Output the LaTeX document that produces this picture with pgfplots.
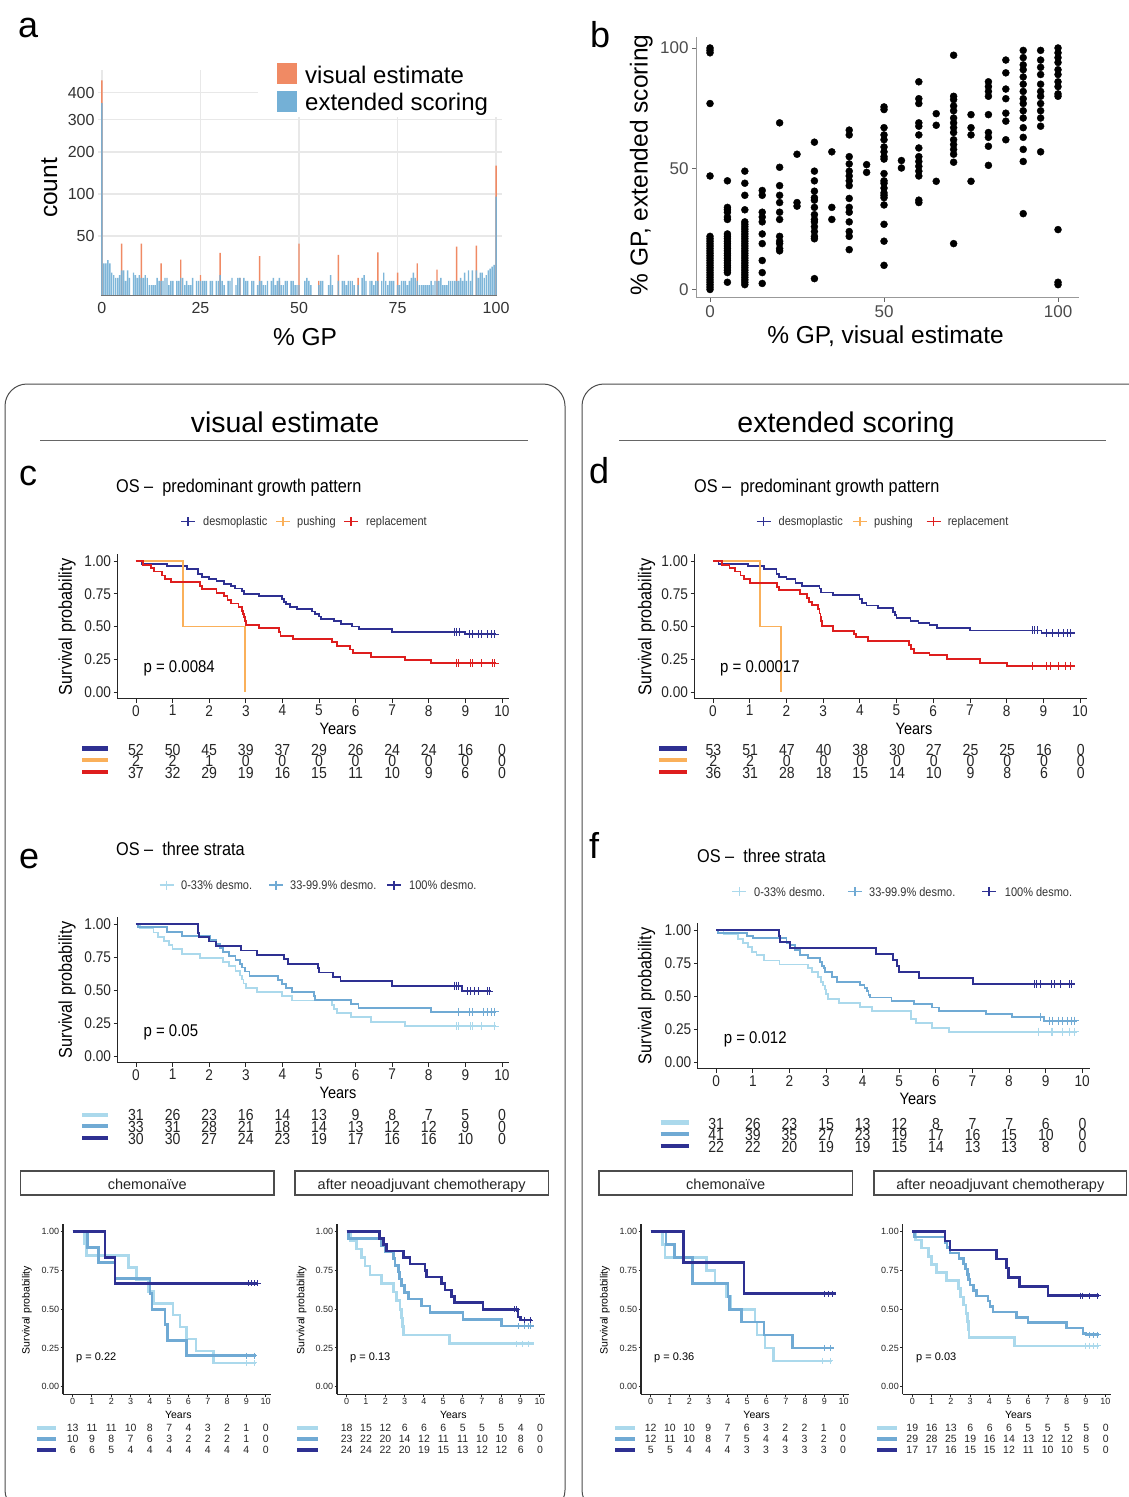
\documentclass[border=0pt]{standalone}
\usepackage{fontspec}
\setmainfont{Liberation Sans}
\newfontfamily\nf[FakeStretch=0.88,Ligatures=TeX]{Liberation Sans}
\usepackage{pgfplots}
\pgfplotsset{compat=1.18}
\definecolor{navy}{RGB}{46,48,146}
\definecolor{orangeKM}{RGB}{250,176,90}
\definecolor{redKM}{RGB}{222,30,30}
\definecolor{lightb}{RGB}{171,217,236}
\definecolor{medb}{RGB}{112,170,212}
\definecolor{historange}{RGB}{240,138,100}
\definecolor{histblue}{RGB}{116,176,214}
\definecolor{gridc}{RGB}{232,232,232}
\newcommand{\fs}[1]{\fontsize{#1}{#1}\selectfont}

\pgfplotsset{
 kmbase/.style={scale only axis, clip=false, axis lines=left, axis line style={-,line width=1.1pt,black!85},
   xmin=-0.5, ymin=-0.05, ymax=1.05, xtick={0,1,...,10}, ytick={0,0.25,0.5,0.75,1},
   yticklabels={0.00,0.25,0.50,0.75,1.00}, tick align=outside, tick style={black!85,line width=0.8pt},
   /pgf/number format/assume math mode=true, anchor=south west},
 kmbig/.style={kmbase, xmax=10.2, width=391.6pt, major tick length=4pt,
   ticklabel style={font=\nf\fs{15.5}, text=black!85, inner sep=2.5pt}},
 kmsmall/.style={kmbase, xmax=10.3, width=208.4pt, height=170.5pt, major tick length=2.5pt,
   axis line style={-,line width=1.5pt,black!85}, tick style={line width=1pt},
   ticklabel style={font=\fs{9}, text=black!85, inner sep=1.2pt}},
 kmline/.style={const plot, line width=1.8pt, #1},
 kmcens/.style={only marks, mark=+, mark size=4pt, #1, mark options={line width=1pt}},
 smline/.style={const plot, line width=2.6pt, #1},
 smcens/.style={only marks, mark=+, mark size=3pt, #1, mark options={line width=1pt}},
}

\newcommand{\riskrow}[6]{%
  \foreach \v [count=\i from 0] in {#6} {\node[font=#5\fs{#4}, anchor=base, inner sep=0pt, text=black!85] at ({#1+\i*#2},#3) {\v};}}
\newcommand{\riskbar}[5]{\draw[#4, line width=#5] (#1,#3) -- (#2,#3);}
\newcommand{\legitem}[6]{%
  \draw[#3, line width=1.3pt] (#1-7,#2) -- (#1+7,#2) (#1,#2-4.5) -- (#1,#2+4.5);
  \node[font=\nf\fs{12.5}, anchor=base west, inner sep=0pt, text=black!80] at (#4,#5) {#6};}

\begin{document}
\begin{tikzpicture}
\useasboundingbox (0,0) rectangle (1129pt,-1497pt);
\fill[white] (0,0) rectangle (1129pt,-1497pt);

% ---------------- panel a ----------------
\begin{axis}[scale only axis, at={(98pt,-295.3pt)}, anchor=south west, width=404pt, height=225.3pt,
  xmin=-1, xmax=101.5, ymin=0, ymax=22.24, axis line style={draw=none}, major tick length=0pt,
  xtick={0,25,50,75,100}, ytick={5.85,10,14.142,17.32,20}, yticklabels={50,100,200,300,400},
  grid=major, major grid style={color=gridc, line width=1.3pt},
  ticklabel style={font=\fs{16}, text=black!80}, xticklabel style={yshift=-3.5pt},
  y filter/.expression={sqrt(y)}, /pgf/number format/assume math mode=true, clip=false]
\addplot[ybar, bar width=1.4pt, bar shift=0pt, fill=historange, draw=none] coordinates {
(0,450)(5,26)(10,26)(15,10)(20,12.4)(25,4)(30,17.5)(35,3)(40,15)(45,2)(50,26)(55,2)(60,16)(65,3)(70,18)(75,5)(80,10)(85,6.4)(90,23)(95,24)(100,164)};
\addplot[ybar, bar width=1.4pt, bar shift=0pt, fill=histblue, draw=none, fill opacity=0.92] coordinates {
(0,360)(0.5,10)(1,10)(1.5,12)(2,10)(2.5,5)(3,4)(3.5,3)(4,3)(4.5,4)(5,6)(5.5,6)(6,2)(6.5,6)(7,3)(7.5,0)(8,5)(8.5,4)(9,3)(9.5,4)(10,3)(10.5,3)(11,4)(11.5,3)(12,1)(12.5,1)(13,1)(13.5,1)(14,3)(14.5,2)(15,2)(15.5,2)(16,3)(16.5,3)(17,1)(17.5,2)(18,2)(18.5,0)(19,2)(19.5,2)(20,3)(20.5,3)(21,1)(21.5,2)(22,1)(22.5,1)(23,3)(23.5,0)(24,2)(24.5,2)(25,2)(25.5,2)(26,2)(26.5,2)(27,0)(27.5,2)(28,2)(28.5,0)(29,2)(29.5,2)(30,4)(30.5,2)(31,1)(31.5,0)(32,2)(32.5,2)(33,3)(33.5,0)(34,1)(34.5,3)(35,3)(35.5,0)(36,3)(36.5,2)(37,2)(37.5,0)(38,2)(38.5,2)(39,0)(39.5,1)(40,2)(40.5,2)(41,1)(41.5,1)(42,2)(42.5,0)(43,2)(43.5,3)(44,1)(44.5,2)(45,3)(45.5,1)(46,1)(46.5,2)(47,2)(47.5,0)(48,2)(48.5,2)(49,1)(49.5,1)(50,1)(50.5,0)(51,0)(51.5,2)(52,3)(52.5,2)(53,1)(53.5,0)(54,0)(54.5,0)(55,1)(55.5,2)(56,2)(56.5,0)(57,0)(57.5,1)(58,4)(58.5,1)(59,0)(59.5,0)(60,2)(60.5,0)(61,2)(61.5,2)(62,1)(62.5,2)(63,2)(63.5,2)(64,1)(64.5,0)(65,1)(65.5,0)(66,3)(66.5,4)(67,2)(67.5,0)(68,2)(68.5,2)(69,1)(69.5,2)(70,2)(70.5,0)(71,2)(71.5,5)(72,2)(72.5,1)(73,2)(73.5,2)(74,2)(74.5,0)(75,1)(75.5,1)(76,2)(76.5,2)(77,2)(77.5,1)(78,2)(78.5,3)(79,5)(79.5,3)(80,2)(80.5,1)(81,1)(81.5,1)(82,1)(82.5,1)(83,1)(83.5,2)(84,1)(84.5,2)(85,2)(85.5,2)(86,3)(86.5,1)(87,1)(87.5,1)(88,2)(88.5,2)(89,2)(89.5,2)(90,2)(90.5,2)(91,3)(91.5,2)(92,5)(92.5,2)(93,6)(93.5,2)(94,6)(94.5,0)(95,6)(95.5,3)(96,5)(96.5,5)(97,3)(97.5,4)(98,6)(98.5,7)(99,8)(99.5,9)(100,95)};
\draw[black!55, line width=0.7pt] (axis cs:-0.3,0) -- (axis cs:100.3,0);
\end{axis}

% ---------------- panel b ----------------
\begin{axis}[scale only axis, at={(696.1pt,-297.95pt)}, anchor=south west, width=382.8pt, height=260.85pt,
  xmin=-4, xmax=106, ymin=-3.5, ymax=104.5, axis lines=left, axis line style={-, line width=1pt, color=black!40},
  xtick={0,50,100}, ytick={0,50,100}, tick align=outside, major tick length=4pt,
  tick style={black!60, line width=0.8pt}, ticklabel style={font=\fs{17}, text=black!70},
  clip=false, /pgf/number format/assume math mode=true]
\addplot[only marks, mark=*, mark size=3.5pt, black] coordinates {
(0,0)(0,1)(0,2)(0,3)(0,4)(0,5)(0,6)(0,7)(0,8)(0,9)(0,10)(0,11)(0,12)(0,13)(0,14)(0,15)(0,16)(0,17)(0,18)(0,19)(0,20)(0,21)(0,22)(0,47)(0,77)(0,98)(0,99)(0,100)
(5,3)(5,7)(5,8)(5,9)(5,10)(5,11)(5,12)(5,13)(5,14)(5,15)(5,16)(5,17)(5,18)(5,19)(5,20)(5,21)(5,22)(5,23)(5,29)(5,30)(5,32)(5,33)(5,34)(5,45)
(10,2)(10,3)(10,4)(10,5)(10,6)(10,7)(10,8)(10,9)(10,10)(10,11)(10,12)(10,13)(10,14)(10,15)(10,16)(10,17)(10,18)(10,19)(10,20)(10,21)(10,22)(10,23)(10,24)(10,25)(10,26)(10,27)(10,28)(10,33)(10,39)(10,44)(10,49)
(15,2.5)(15,7)(15,12)(15,19)(15,23)(15,28)(15,30)(15,32)(15,39)(15,41)
(20,16)(20,17)(20,19)(20,20)(20,22)(20,29)(20,32)(20,36)(20,39)(20,43)(20,50.6)(20,69)
(25,34.5)(25,36)(25,56)
(30,4.5)(30,21)(30,22)(30,24)(30,26)(30,28)(30,29)(30,31)(30,34)(30,37)(30,38)(30,40.7)(30,45)(30,49)(30,61)
(35,29)(35,34)(35,57)
(40,16.5)(40,22)(40,24)(40,28)(40,32)(40,34)(40,37.7)(40,43)(40,45)(40,47)(40,49)(40,52)(40,55)(40,64)(40,66)
(45,48.5)(45,51.7)
(50,10)(50,20)(50,27)(50,35)(50,38)(50,39)(50,40)(50,42)(50,44)(50,45)(50,48)(50,54)(50,55)(50,57)(50,59)(50,62)(50,64)(50,67)(50,74.5)(50,75.6)
(55,50.3)(55,53.4)
(60,36)(60,37)(60,47)(60,49)(60,51)(60,53)(60,55)(60,58.6)(60,64)(60,67.6)(60,69)(60,77)(60,79)(60,86)
(65,44.8)(65,68)(65,72.8)
(70,19)(70,52.7)(70,56)(70,58)(70,60)(70,62)(70,65)(70,67)(70,69)(70,71)(70,74)(70,76)(70,78.6)(70,80)(70,97)
(75,44.8)(75,64)(75,67)(75,72.4)
(80,51.4)(80,59.3)(80,63)(80,65)(80,72.4)(80,80)(80,82)(80,84)(80,86)
(85,62)(85,69.7)(85,73)(85,79)(85,83)(85,89.7)(85,95)
(90,31.4)(90,53)(90,58)(90,63)(90,67)(90,71)(90,74)(90,77)(90,79)(90,82)(90,85)(90,88)(90,91)(90,93)(90,96)(90,99)
(95,57)(95,67.6)(95,71)(95,74)(95,77)(95,80)(95,82)(95,85)(95,89)(95,92)(95,95)(95,99)
(100,2)(100,3)(100,24.8)(100,80)(100,81)(100,84)(100,86)(100,89)(100,91)(100,94)(100,96)(100,98)(100,100)};
\end{axis}

% ---------------- panel c ----------------
\begin{axis}[kmbig, height=144.1pt, at={(117.7pt,-698.55pt)}]
\addplot[kmline=navy] coordinates {(0,1)(0.15,0.98)(0.85,0.96)(1.4,0.94)(1.7,0.90)(1.8,0.88)(2.0,0.865)(2.2,0.846)(2.4,0.827)(2.6,0.808)(2.7,0.79)(2.9,0.77)(2.95,0.75)(3.35,0.735)(4.0,0.71)(4.05,0.69)(4.1,0.67)(4.2,0.65)(4.4,0.635)(4.8,0.615)(4.9,0.596)(5.0,0.577)(5.05,0.558)(5.4,0.54)(5.6,0.52)(5.9,0.50)(6.1,0.48)(7.0,0.46)(9.0,0.44)(9.85,0.44)};
\addplot[kmline=orangeKM] coordinates {(0,1)(1.28,0.5)(2.98,0)};
\addplot[kmline=redKM] coordinates {(0,1)(0.2,0.97)(0.4,0.946)(0.5,0.92)(0.7,0.89)(0.8,0.865)(0.95,0.84)(1.75,0.81)(1.8,0.785)(2.2,0.757)(2.4,0.73)(2.5,0.70)(2.6,0.676)(2.8,0.65)(2.9,0.62)(2.93,0.595)(2.95,0.57)(2.97,0.54)(3.0,0.51)(3.35,0.49)(3.9,0.46)(3.95,0.43)(4.3,0.405)(5.35,0.38)(5.5,0.35)(5.85,0.325)(5.93,0.30)(6.42,0.27)(7.34,0.245)(8.07,0.22)(9.85,0.22)};
\addplot[kmcens=navy] coordinates {(8.7,0.46)(8.75,0.46)(8.85,0.46)(9.1,0.44)(9.2,0.44)(9.35,0.44)(9.45,0.44)(9.6,0.44)(9.7,0.44)(9.8,0.44)};
\addplot[kmcens=redKM] coordinates {(8.75,0.22)(8.8,0.22)(9.15,0.22)(9.2,0.22)(9.45,0.22)(9.75,0.22)(9.8,0.22)};
\end{axis}

% ---------------- panel d ----------------
\begin{axis}[kmbig, width=392.7pt, height=144.1pt, at={(694.65pt,-698.55pt)}]
\addplot[kmline=navy] coordinates {(0,1)(0.15,0.98)(0.95,0.96)(1.4,0.94)(1.73,0.90)(1.8,0.88)(2.0,0.865)(2.25,0.83)(2.42,0.81)(2.9,0.79)(2.95,0.76)(3.28,0.74)(3.99,0.71)(4.05,0.68)(4.18,0.66)(4.5,0.64)(4.9,0.61)(4.95,0.585)(5.0,0.565)(5.38,0.545)(5.6,0.525)(5.9,0.51)(6.1,0.49)(7.0,0.47)(8.95,0.45)(9.85,0.45)};
\addplot[kmline=orangeKM] coordinates {(0,1)(1.28,0.5)(1.85,0)};
\addplot[kmline=redKM] coordinates {(0,1)(0.25,0.97)(0.45,0.945)(0.6,0.92)(0.75,0.89)(0.85,0.86)(1.0,0.83)(1.75,0.80)(1.8,0.78)(2.37,0.75)(2.56,0.72)(2.62,0.69)(2.7,0.665)(2.85,0.635)(2.9,0.60)(2.93,0.57)(2.95,0.54)(2.98,0.506)(3.28,0.468)(3.85,0.44)(3.9,0.418)(4.23,0.39)(5.33,0.36)(5.4,0.33)(5.47,0.30)(5.9,0.28)(6.38,0.25)(7.28,0.22)(8.0,0.20)(9.85,0.20)};
\addplot[kmcens=navy] coordinates {(8.7,0.47)(8.75,0.47)(8.85,0.47)(9.1,0.45)(9.25,0.45)(9.4,0.45)(9.55,0.45)(9.65,0.45)(9.75,0.45)};
\addplot[kmcens=redKM] coordinates {(8.7,0.2)(9.1,0.2)(9.2,0.2)(9.4,0.2)(9.6,0.2)(9.75,0.2)};
\end{axis}

% ---------------- panel e ----------------
\begin{axis}[kmbig, height=145.2pt, at={(117.7pt,-1062.6pt)}]
\addplot[kmline=lightb] coordinates {(0,1)(0.1,0.97)(0.48,0.935)(0.6,0.90)(0.77,0.87)(0.9,0.84)(1.0,0.81)(1.26,0.775)(1.74,0.745)(2.38,0.715)(2.55,0.68)(2.72,0.645)(2.85,0.61)(2.9,0.58)(2.94,0.55)(3.0,0.515)(3.3,0.485)(3.98,0.455)(4.27,0.42)(5.35,0.385)(5.42,0.355)(5.5,0.325)(5.88,0.295)(6.42,0.26)(7.34,0.225)(9.85,0.225)};
\addplot[kmline=medb] coordinates {(0,1)(0.05,0.975)(0.85,0.94)(1.26,0.91)(2.03,0.88)(2.18,0.85)(2.3,0.82)(2.38,0.79)(2.55,0.76)(2.72,0.73)(2.85,0.70)(2.9,0.67)(2.98,0.64)(3.1,0.605)(3.88,0.575)(3.98,0.545)(4.1,0.515)(4.27,0.487)(4.86,0.455)(4.9,0.427)(5.88,0.395)(6.08,0.366)(8.07,0.335)(9.85,0.335)};
\addplot[kmline=navy] coordinates {(0,1)(1.69,0.933)(1.72,0.90)(1.99,0.867)(2.18,0.833)(2.86,0.80)(3.3,0.767)(4.05,0.733)(4.16,0.70)(4.98,0.667)(5.0,0.633)(5.39,0.60)(5.59,0.567)(7.0,0.533)(8.9,0.49)(9.7,0.49)};
\addplot[kmcens=lightb] coordinates {(8.75,0.225)(8.8,0.225)(9.15,0.225)(9.2,0.225)(9.45,0.225)(9.8,0.225)};
\addplot[kmcens=medb] coordinates {(8.8,0.335)(9.1,0.335)(9.2,0.335)(9.5,0.335)(9.6,0.335)(9.7,0.335)(9.8,0.335)};
\addplot[kmcens=navy] coordinates {(8.7,0.533)(8.75,0.533)(8.8,0.533)(9.05,0.49)(9.15,0.49)(9.25,0.49)(9.35,0.49)(9.6,0.49)(9.65,0.49)};
\end{axis}

% ---------------- panel f ----------------
\begin{axis}[kmbig, height=145.5pt, at={(697.9pt,-1068.9pt)}]
\addplot[kmline=lightb] coordinates {(0,1)(0.2,0.97)(0.6,0.935)(0.73,0.90)(0.87,0.87)(0.97,0.836)(1.1,0.81)(1.3,0.77)(1.73,0.74)(2.5,0.71)(2.62,0.68)(2.78,0.645)(2.86,0.61)(2.92,0.58)(2.97,0.55)(3.0,0.515)(3.05,0.476)(3.35,0.45)(3.93,0.42)(4.26,0.388)(5.32,0.325)(5.46,0.295)(5.89,0.262)(6.37,0.232)(9.85,0.232)};
\addplot[kmline=medb] coordinates {(0,1)(0.05,0.976)(0.85,0.955)(1.0,0.937)(1.92,0.90)(2.0,0.887)(2.16,0.85)(2.3,0.81)(2.5,0.786)(2.83,0.76)(2.9,0.73)(2.95,0.71)(2.97,0.68)(3.16,0.647)(3.31,0.61)(3.93,0.585)(4.05,0.56)(4.12,0.54)(4.16,0.51)(4.2,0.49)(4.79,0.464)(5.41,0.44)(5.89,0.415)(6.08,0.388)(7.37,0.365)(8.09,0.34)(8.95,0.315)(9.85,0.315)};
\addplot[kmline=navy] coordinates {(0,1)(1.71,0.955)(1.75,0.91)(2.02,0.864)(4.36,0.818)(4.82,0.773)(4.93,0.727)(5.0,0.68)(5.55,0.636)(7.02,0.59)(9.8,0.59)};
\addplot[kmcens=lightb] coordinates {(8.8,0.232)(9.15,0.232)(9.2,0.232)(9.45,0.232)(9.65,0.232)(9.8,0.232)};
\addplot[kmcens=medb] coordinates {(8.85,0.34)(9.1,0.315)(9.2,0.315)(9.35,0.315)(9.45,0.315)(9.6,0.315)(9.7,0.315)(9.8,0.315)};
\addplot[kmcens=navy] coordinates {(8.7,0.59)(8.75,0.59)(8.85,0.59)(9.15,0.59)(9.25,0.59)(9.4,0.59)(9.65,0.59)(9.7,0.59)};
\end{axis}

% ---------------- small KM 1 ----------------
\begin{axis}[kmsmall, at={(63.05pt,-1394.45pt)}]
\addplot[smline=lightb] coordinates {(0,1)(0.6,0.923)(0.72,0.846)(2.88,0.769)(3.3,0.692)(3.9,0.615)(4.18,0.538)(5.2,0.462)(5.56,0.385)(5.9,0.308)(6.4,0.231)(7.29,0.154)(9.5,0.154)};
\addplot[smline=medb] coordinates {(0,1)(0.78,0.9)(1.33,0.8)(2.19,0.7)(4.0,0.6)(4.1,0.5)(4.78,0.4)(4.9,0.3)(5.9,0.2)(9.5,0.2)};
\addplot[smline=navy] coordinates {(0,1)(1.68,0.833)(2.19,0.667)(9.6,0.667)};
\addplot[smcens=lightb] coordinates {(9.0,0.154)(9.4,0.154)};
\addplot[smcens=medb] coordinates {(9.0,0.2)(9.4,0.2)};
\addplot[smcens=navy] coordinates {(9.1,0.667)(9.25,0.667)(9.4,0.667)(9.6,0.667)};
\end{axis}

% ---------------- small KM 2 ----------------
\begin{axis}[kmsmall, at={(337.05pt,-1394.45pt)}]
\addplot[smline=lightb] coordinates {(0,1)(0.2,0.944)(0.52,0.889)(0.78,0.833)(0.95,0.778)(1.2,0.722)(1.81,0.667)(2.41,0.611)(2.59,0.556)(2.76,0.5)(2.84,0.444)(2.9,0.389)(2.93,0.333)(5.34,0.278)(9.7,0.278)};
\addplot[smline=medb] coordinates {(0,1)(0.1,0.957)(1.81,0.913)(1.98,0.87)(2.41,0.826)(2.5,0.783)(2.67,0.739)(2.75,0.696)(2.84,0.652)(2.98,0.609)(3.19,0.565)(3.88,0.522)(4.31,0.478)(6.03,0.435)(8.02,0.391)(9.7,0.391)};
\addplot[smline=navy] coordinates {(0,1)(1.69,0.958)(1.9,0.917)(2.07,0.875)(2.93,0.833)(3.28,0.792)(4.05,0.75)(4.14,0.708)(4.91,0.667)(5.09,0.625)(5.43,0.583)(5.6,0.542)(7.07,0.5)(8.88,0.45)(9.0,0.43)(9.6,0.43)};
\addplot[smcens=lightb] coordinates {(8.8,0.278)(9.1,0.278)(9.4,0.278)};
\addplot[smcens=medb] coordinates {(8.9,0.391)(9.2,0.391)(9.4,0.391)(9.5,0.391)};
\addplot[smcens=navy] coordinates {(8.7,0.5)(8.8,0.5)(9.2,0.43)(9.5,0.43)};
\end{axis}

% ---------------- small KM 3 ----------------
\begin{axis}[kmsmall, at={(641.05pt,-1394.45pt)}]
\addplot[smline=lightb] coordinates {(0,1)(0.6,0.917)(0.74,0.833)(2.9,0.75)(3.34,0.667)(3.94,0.583)(4.12,0.5)(5.41,0.417)(5.5,0.333)(5.93,0.25)(6.37,0.167)(9.4,0.167)};
\addplot[smline=medb] coordinates {(0,1)(0.8,0.917)(1.23,0.833)(2.18,0.667)(4.0,0.583)(4.07,0.5)(4.72,0.417)(5.88,0.333)(7.35,0.25)(9.5,0.25)};
\addplot[smline=navy] coordinates {(0,1)(1.71,0.8)(4.84,0.6)(9.6,0.6)};
\addplot[smcens=lightb] coordinates {(8.9,0.167)(9.3,0.167)};
\addplot[smcens=medb] coordinates {(9.0,0.25)(9.3,0.25)};
\addplot[smcens=navy] coordinates {(9.0,0.6)(9.2,0.6)(9.4,0.6)};
\end{axis}

% ---------------- small KM 4 ----------------
\begin{axis}[kmsmall, at={(902.65pt,-1394.45pt)}]
\addplot[smline=lightb] coordinates {(0,1)(0.15,0.947)(0.48,0.895)(0.83,0.842)(1.0,0.789)(1.26,0.737)(1.78,0.684)(2.38,0.632)(2.5,0.579)(2.64,0.526)(2.78,0.474)(2.85,0.421)(2.9,0.368)(2.93,0.316)(5.31,0.263)(9.7,0.263)};
\addplot[smline=medb] coordinates {(0,1)(0.1,0.966)(1.69,0.931)(1.8,0.897)(1.95,0.862)(2.43,0.828)(2.64,0.793)(2.75,0.759)(2.85,0.724)(2.9,0.69)(2.98,0.655)(3.16,0.621)(3.33,0.586)(3.93,0.552)(4.02,0.517)(4.19,0.483)(5.4,0.448)(6.0,0.414)(7.98,0.379)(8.84,0.345)(9.0,0.336)(9.7,0.336)};
\addplot[smline=navy] coordinates {(0,1)(1.69,0.941)(1.95,0.882)(4.36,0.824)(4.88,0.765)(4.97,0.706)(5.57,0.647)(7.03,0.588)(9.7,0.588)};
\addplot[smcens=lightb] coordinates {(9.0,0.263)(9.2,0.263)(9.4,0.263)(9.6,0.263)};
\addplot[smcens=medb] coordinates {(9.2,0.336)(9.4,0.336)(9.6,0.336)};
\addplot[smcens=navy] coordinates {(8.7,0.588)(8.8,0.588)(9.2,0.588)(9.6,0.588)};
\end{axis}

% ---------------- texts and frames ----------------
\begin{scope}[x=1pt,y=-1pt]
% panel a legend and labels
\fill[white] (258,56) rectangle (503,117);
\fill[historange] (277,63) rectangle (297,84);
\fill[histblue] (277,91) rectangle (297,112);
\node[font=\fs{24}, anchor=base west, inner sep=0pt] at (305,83) {visual estimate};
\node[font=\fs{24}, anchor=base west, inner sep=0pt] at (305,110) {extended scoring};
\node[font=\fs{24.5}, rotate=90, anchor=base, inner sep=0pt] at (57,188) {count};
\node[font=\fs{24.5}, anchor=base, inner sep=0pt] at (305,345) {\% GP};
% panel b labels
\node[font=\fs{24.5}, rotate=90, anchor=base, inner sep=0pt] at (647.5,165) {\% GP, extended scoring};
\node[font=\fs{24.5}, anchor=base, inner sep=0pt] at (885.5,343) {\% GP, visual estimate};
% panel letters
\node[font=\fs{36}, anchor=base west, inner sep=0pt] at (18,37) {a};
\node[font=\fs{36}, anchor=base west, inner sep=0pt] at (590,47) {b};
\node[font=\fs{36}, anchor=base west, inner sep=0pt] at (19,485) {c};
\node[font=\fs{36}, anchor=base west, inner sep=0pt] at (589,483) {d};
\node[font=\fs{36}, anchor=base west, inner sep=0pt] at (19,868) {e};
\node[font=\fs{36}, anchor=base west, inner sep=0pt] at (589,858) {f};
% frames
\draw[black!70, line width=1pt, rounded corners=22pt] (5,384) rectangle (565,1512);
\draw[black!70, line width=1pt, rounded corners=22pt] (582,384) rectangle (1160,1512);
\node[font=\fs{28.5}, anchor=base, inner sep=0pt] at (285,432) {visual estimate};
\node[font=\fs{28.5}, anchor=base, inner sep=0pt] at (846,432) {extended scoring};
\draw[black!60, line width=1pt] (40,440) -- (528,440);
\draw[black!60, line width=1pt] (619,440) -- (1106,440);
% KM titles
\node[font=\nf\fs{18.5}, anchor=base west, inner sep=0pt] at (116,492) {OS –\ \ predominant growth pattern};
\node[font=\nf\fs{18.5}, anchor=base west, inner sep=0pt] at (694,492) {OS –\ \ predominant growth pattern};
\node[font=\nf\fs{18.5}, anchor=base west, inner sep=0pt] at (116,855) {OS –\ \ three strata};
\node[font=\nf\fs{18.5}, anchor=base west, inner sep=0pt] at (697,862) {OS –\ \ three strata};
% KM legends
\legitem{188}{521.7}{navy}{203}{525.7}{desmoplastic}
\legitem{283}{521.7}{orangeKM}{297}{525.7}{pushing}
\legitem{351}{521.7}{redKM}{366}{525.7}{replacement}
\legitem{763.8}{521.7}{navy}{778.5}{525.7}{desmoplastic}
\legitem{860}{521.7}{orangeKM}{874}{525.7}{pushing}
\legitem{933.6}{521.7}{redKM}{947.6}{525.7}{replacement}
\legitem{166.5}{885}{lightb}{181}{889.3}{0-33\% desmo.}
\legitem{276}{885}{medb}{290}{889.3}{33-99.9\% desmo.}
\legitem{394}{885}{navy}{409}{889.3}{100\% desmo.}
\legitem{739.3}{891.7}{lightb}{754}{896}{0-33\% desmo.}
\legitem{854.9}{891.7}{medb}{869}{896}{33-99.9\% desmo.}
\legitem{989}{891.7}{navy}{1004.7}{896}{100\% desmo.}
% KM y labels
\node[font=\nf\fs{18.5}, rotate=90, inner sep=0pt] at (67,627) {Survival probability};
\node[font=\nf\fs{18.5}, rotate=90, inner sep=0pt] at (646.5,627) {Survival probability};
\node[font=\nf\fs{18.5}, rotate=90, inner sep=0pt] at (67,990) {Survival probability};
\node[font=\nf\fs{18.5}, rotate=90, inner sep=0pt] at (646.5,996) {Survival probability};
% Years
\node[font=\nf\fs{16.5}, anchor=base, inner sep=0pt] at (338,734) {Years};
\node[font=\nf\fs{16.5}, anchor=base, inner sep=0pt] at (914,734) {Years};
\node[font=\nf\fs{16.5}, anchor=base, inner sep=0pt] at (338,1098) {Years};
\node[font=\nf\fs{16.5}, anchor=base, inner sep=0pt] at (918,1104) {Years};
% p values
\node[font=\nf\fs{17}, anchor=base west, inner sep=0pt] at (143.4,672) {p = 0.0084};
\node[font=\nf\fs{17}, anchor=base west, inner sep=0pt] at (720,672) {p = 0.00017};
\node[font=\nf\fs{17}, anchor=base west, inner sep=0pt] at (143.4,1036.5) {p = 0.05};
\node[font=\nf\fs{17}, anchor=base west, inner sep=0pt] at (723.6,1043) {p = 0.012};
% risk tables big
\riskbar{82}{108}{748.5}{navy}{4.5pt}\riskbar{82}{108}{760.2}{orangeKM}{4.5pt}\riskbar{82}{108}{771.8}{redKM}{4.5pt}
\riskrow{136}{36.6}{755}{16}{\nf}{52,50,45,39,37,29,26,24,24,16,0}
\riskrow{136}{36.6}{766.7}{16}{\nf}{2,2,1,0,0,0,0,0,0,0,0}
\riskrow{136}{36.6}{778.3}{16}{\nf}{37,32,29,19,16,15,11,10,9,6,0}
\riskbar{659}{687}{748.5}{navy}{4.5pt}\riskbar{659}{687}{760.2}{orangeKM}{4.5pt}\riskbar{659}{687}{771.8}{redKM}{4.5pt}
\riskrow{713.4}{36.73}{755}{16}{\nf}{53,51,47,40,38,30,27,25,25,16,0}
\riskrow{713.4}{36.73}{766.7}{16}{\nf}{2,2,0,0,0,0,0,0,0,0,0}
\riskrow{713.4}{36.73}{778.3}{16}{\nf}{36,31,28,18,15,14,10,9,8,6,0}
\riskbar{82}{108}{1115}{lightb}{4.5pt}\riskbar{82}{108}{1126}{medb}{4.5pt}\riskbar{82}{108}{1138}{navy}{4.5pt}
\riskrow{136}{36.6}{1120.7}{16}{\nf}{31,26,23,16,14,13,9,8,7,5,0}
\riskrow{136}{36.6}{1132}{16}{\nf}{33,31,28,21,18,14,13,12,12,9,0}
\riskrow{136}{36.6}{1144}{16}{\nf}{30,30,27,24,23,19,17,16,16,10,0}
\riskbar{660.5}{688.5}{1122.5}{lightb}{4.5pt}\riskbar{660.5}{688.5}{1134}{medb}{4.5pt}\riskbar{660.5}{688.5}{1146}{navy}{4.5pt}
\riskrow{716.2}{36.63}{1129.3}{16}{\nf}{31,26,23,15,13,12,8,7,7,6,0}
\riskrow{716.2}{36.63}{1140.7}{16}{\nf}{41,39,35,27,23,19,17,16,15,10,0}
\riskrow{716.2}{36.63}{1152.7}{16}{\nf}{22,22,20,19,19,15,14,13,13,8,0}
% strips
\draw[black!70, line width=1.3pt] (20.7,1171) rectangle (274,1195);
\draw[black!70, line width=1.3pt] (295,1171) rectangle (548.3,1195);
\draw[black!70, line width=1.3pt] (599,1171) rectangle (852.3,1195);
\draw[black!70, line width=1.3pt] (874,1171) rectangle (1126.7,1195);
\node[font=\fs{14.5}, anchor=base, inner sep=0pt, text=black!85] at (147.3,1189) {chemonaïve};
\node[font=\fs{14.5}, anchor=base, inner sep=0pt, text=black!85] at (421.7,1189) {after neoadjuvant chemotherapy};
\node[font=\fs{14.5}, anchor=base, inner sep=0pt, text=black!85] at (725.7,1189) {chemonaïve};
\node[font=\fs{14.5}, anchor=base, inner sep=0pt, text=black!85] at (1000.3,1189) {after neoadjuvant chemotherapy};
% small labels
\node[font=\fs{10.5}, rotate=90, inner sep=0pt] at (27,1310) {Survival probability};
\node[font=\fs{10.5}, rotate=90, inner sep=0pt] at (301.7,1310) {Survival probability};
\node[font=\fs{10.5}, rotate=90, inner sep=0pt] at (605,1310) {Survival probability};
\node[font=\fs{10.5}, anchor=base, inner sep=0pt] at (178.3,1418.3) {Years};
\node[font=\fs{10.5}, anchor=base, inner sep=0pt] at (453.3,1418.3) {Years};
\node[font=\fs{10.5}, anchor=base, inner sep=0pt] at (756.7,1418.3) {Years};
\node[font=\fs{10.5}, anchor=base, inner sep=0pt] at (1018.3,1418.3) {Years};
\node[font=\fs{11}, anchor=base west, inner sep=0pt] at (76,1360) {p = 0.22};
\node[font=\fs{11}, anchor=base west, inner sep=0pt] at (350,1360) {p = 0.13};
\node[font=\fs{11}, anchor=base west, inner sep=0pt] at (654,1360) {p = 0.36};
\node[font=\fs{11}, anchor=base west, inner sep=0pt] at (916,1360) {p = 0.03};
% small risk tables
\riskbar{37}{56}{1428.3}{lightb}{3.8pt}\riskbar{37}{56}{1439}{medb}{3.8pt}\riskbar{37}{56}{1449.7}{navy}{3.8pt}
\riskrow{72.7}{19.3}{1431.7}{10.5}{}{13,11,11,10,8,7,4,3,2,1,0}
\riskrow{72.7}{19.3}{1442.3}{10.5}{}{10,9,8,7,6,3,2,2,2,1,0}
\riskrow{72.7}{19.3}{1453}{10.5}{}{6,6,5,4,4,4,4,4,4,4,0}
\riskbar{297}{318}{1428.3}{lightb}{3.8pt}\riskbar{297}{318}{1439}{medb}{3.8pt}\riskbar{297}{318}{1449.7}{navy}{3.8pt}
\riskrow{346.7}{19.33}{1431.7}{10.5}{}{18,15,12,6,6,6,5,5,5,4,0}
\riskrow{346.7}{19.33}{1442.3}{10.5}{}{23,22,20,14,12,11,11,10,10,8,0}
\riskrow{346.7}{19.33}{1453}{10.5}{}{24,24,22,20,19,15,13,12,12,6,0}
\riskbar{615}{635}{1428.3}{lightb}{3.8pt}\riskbar{615}{635}{1439}{medb}{3.8pt}\riskbar{615}{635}{1449.7}{navy}{3.8pt}
\riskrow{650.7}{19.23}{1431.7}{10.5}{}{12,10,10,9,7,6,3,2,2,1,0}
\riskrow{650.7}{19.23}{1442.3}{10.5}{}{12,11,10,8,7,5,4,4,3,2,0}
\riskrow{650.7}{19.23}{1453}{10.5}{}{5,5,4,4,4,3,3,3,3,3,0}
\riskbar{877}{897}{1428.3}{lightb}{3.8pt}\riskbar{877}{897}{1439}{medb}{3.8pt}\riskbar{877}{897}{1449.7}{navy}{3.8pt}
\riskrow{912.3}{19.34}{1431.7}{10.5}{}{19,16,13,6,6,6,5,5,5,5,0}
\riskrow{912.3}{19.34}{1442.3}{10.5}{}{29,28,25,19,16,14,13,12,12,8,0}
\riskrow{912.3}{19.34}{1453}{10.5}{}{17,17,16,15,15,12,11,10,10,5,0}
\end{scope}
\end{tikzpicture}
\end{document}
